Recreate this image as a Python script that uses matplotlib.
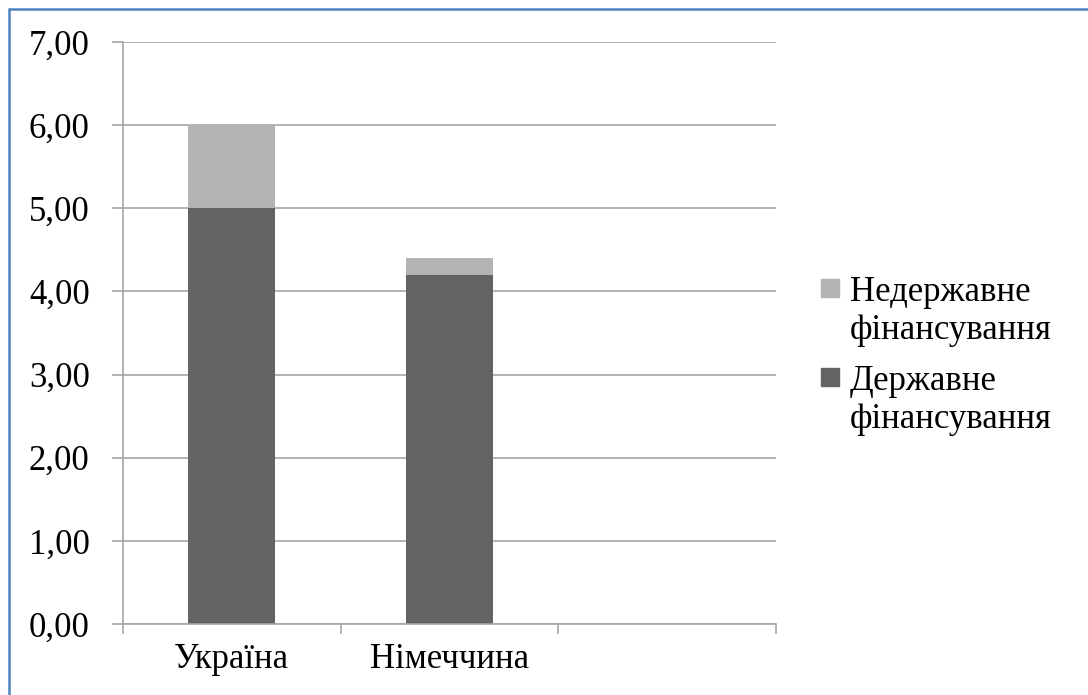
import matplotlib
matplotlib.use("Agg")
import matplotlib.pyplot as plt
from matplotlib.patches import Rectangle, Patch
from matplotlib.ticker import FixedLocator, FuncFormatter
from matplotlib.legend_handler import HandlerPatch

categories = ["Україна", "Німеччина", ""]
state = [5.0, 4.2, 0]
nonstate = [1.0, 0.2, 0]
series_names = ["Державне\nфінансування", "Недержавне\nфінансування"]
yticks = [0, 1, 2, 3, 4, 5, 6, 7]

c_dark = "#636363"
c_light = "#B3B3B3"
grid_c = "#A6A6A6"

plt.rcParams['font.family'] = ['Liberation Serif', 'DejaVu Serif']

fig = plt.figure(figsize=(10.88, 6.95), dpi=100)
ax = fig.add_axes([123/1088, 1-624/695, (776-123)/1088, (624-42)/695])

x = list(range(len(categories)))
ax.bar(x, state, width=0.4, color=c_dark, zorder=3)
ax.bar(x, nonstate, width=0.4, bottom=state, color=c_light, zorder=3)

ax.set_xlim(-0.5, 2.5)
ax.set_ylim(0, 7)
ax.set_yticks(yticks)
ax.yaxis.set_major_formatter(FuncFormatter(lambda v, p: f"{v:.2f}".replace(".", ",")))
ax.set_xticks(x)
ax.set_xticklabels(categories)
ax.xaxis.set_minor_locator(FixedLocator([-0.5, 0.5, 1.5, 2.5]))

for s in ["top", "right"]:
    ax.spines[s].set_visible(False)
for s in ["left", "bottom"]:
    ax.spines[s].set_color(grid_c)
    ax.spines[s].set_linewidth(1.2)
    ax.spines[s].set_zorder(4)

ax.grid(axis="y", color=grid_c, linewidth=1.2, zorder=0)
ax.tick_params(axis="y", which="major", length=8, width=1.2, color=grid_c,
               labelsize=25, pad=16, labelcolor="#000000")
ax.tick_params(axis="x", which="major", length=0, labelsize=25, pad=14)
ax.tick_params(axis="x", which="minor", length=7, width=1.2, color=grid_c)


def top_square(legend, orig_handle, xdescent, ydescent, width, height, fontsize):
    return Rectangle((-xdescent, -ydescent + 0.68 * fontsize), width, height)


handles = [Patch(color=c_light), Patch(color=c_dark)]
leg = fig.legend(handles, [series_names[1], series_names[0]],
                 loc="center left", bbox_to_anchor=(821/1088, 1-356/695),
                 frameon=False, fontsize=25, handlelength=0.53, handleheight=0.42,
                 handletextpad=0.3, labelspacing=0.5, borderpad=0, borderaxespad=0,
                 handler_map={Patch: HandlerPatch(patch_func=top_square)})
for t in leg.get_texts():
    t.set_linespacing(1.2)

border = Rectangle((9/1088, -0.05), 1.1, 1 - 9/695 + 0.05, transform=fig.transFigure,
                   fill=False, edgecolor="#4F81BD", linewidth=1.8, clip_on=False)
fig.patches.append(border)

fig.savefig("out.png", dpi=100)
